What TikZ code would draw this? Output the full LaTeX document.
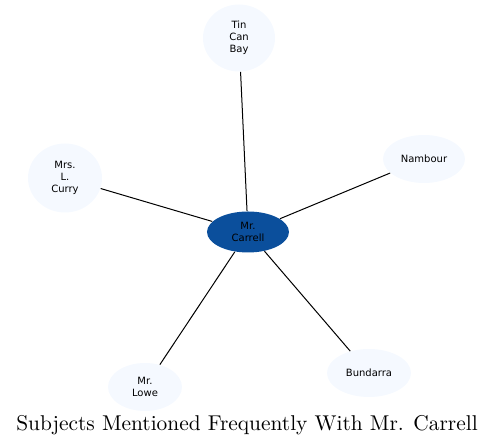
\documentclass[tikz,border=0pt]{standalone}
\usepackage{fontspec}
\newfontfamily\nodefont{DejaVu Sans}
\usepackage{xcolor}
\definecolor{hub}{HTML}{0B4F9C}
\definecolor{leaf}{HTML}{F5F9FF}
\usetikzlibrary{shapes.geometric}

\begin{document}
\begin{tikzpicture}[
  x=0.5pt, y=-0.5pt,
  hubnode/.style={
    ellipse, fill=hub, draw=none, align=center, inner sep=0pt,
    font=\nodefont\fontsize{5}{6}\selectfont,
    minimum width=41pt, minimum height=20.5pt
  },
  leafnode/.style={
    ellipse, fill=leaf, draw=none, align=center, inner sep=0pt,
    font=\nodefont\fontsize{5}{6}\selectfont
  },
  link/.style={black, line width=0.5pt}
]
\useasboundingbox (0,0) rectangle (495,448);

% Centre node
\node[hubnode] (carrell) at (248,232) {Mr.\\Carrell};

% Subjects around it
\node[leafnode, minimum width=36pt, minimum height=33.5pt] (tin) at (239,38) {Tin\\Can\\Bay};
\node[leafnode, minimum width=37pt, minimum height=34.5pt] (curry) at (65,178) {Mrs.\\L.\\Curry};
\node[leafnode, minimum width=41pt, minimum height=24pt] (nambour) at (424,159) {Nambour};
\node[leafnode, minimum width=42pt, minimum height=24pt] (bundarra) at (369,373) {Bundarra};
\node[leafnode, minimum width=37pt, minimum height=24pt] (lowe) at (145,387) {Mr.\\Lowe};

% Links
\foreach \b in {tin, curry, nambour, bundarra, lowe}
  \draw[link] (carrell) -- (\b);

% Title
\node[font=\fontsize{10.7}{13}\selectfont] (title) at (247,425) {Subjects Mentioned Frequently With Mr. Carrell};
\end{tikzpicture}
\end{document}
